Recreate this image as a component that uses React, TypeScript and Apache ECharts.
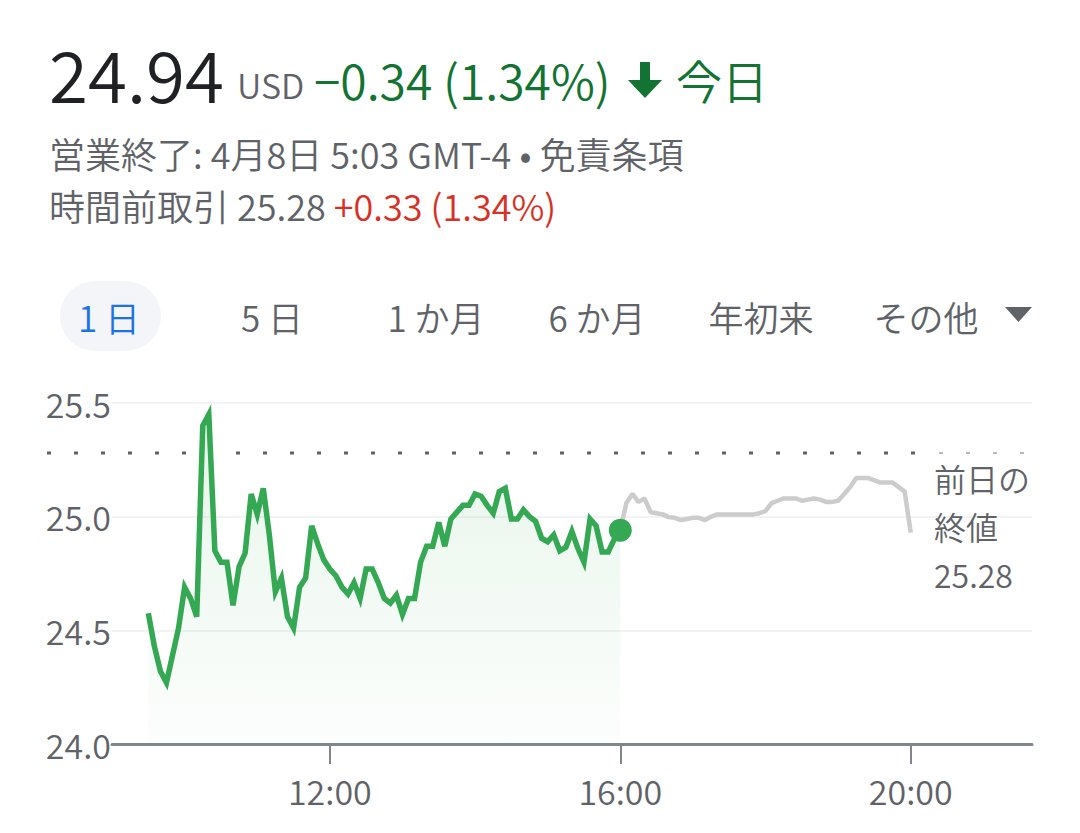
import React, { useEffect, useRef } from "react";
import * as echarts from "echarts";

// ---- data ----
const REGULAR_START_HOUR = 9.5; // 9:30
const AFTER_START_HOUR = 16; // 16:00
const STEP_HOURS = 5 / 60; // 5-minute samples

const regularPrices = [
  24.575, 24.43, 24.32, 24.27, 24.39, 24.51, 24.69, 24.64, 24.56, 25.4,
  25.45, 24.85, 24.8, 24.8, 24.61, 24.78, 24.84, 25.1, 25.01, 25.125,
  24.92, 24.67, 24.73, 24.56, 24.51, 24.69, 24.73, 24.96, 24.88, 24.81,
  24.77, 24.74, 24.69, 24.66, 24.71, 24.64, 24.77, 24.77, 24.71, 24.64,
  24.62, 24.655, 24.57, 24.64, 24.64, 24.8, 24.87, 24.87, 24.975, 24.87,
  24.99, 25.02, 25.05, 25.05, 25.1, 25.09, 25.05, 25.015, 25.11, 25.125,
  24.99, 24.99, 25.03, 25.0, 24.98, 24.905, 24.89, 24.92, 24.85, 24.865,
  24.935, 24.86, 24.8, 24.99, 24.96, 24.845, 24.845, 24.9, 24.94,
];

const afterHoursPrices = [
  24.94, 25.06, 25.1, 25.065, 25.08, 25.02, 25.015, 25.01, 24.998, 24.995,
  24.985, 24.99, 24.995, 24.995, 24.985, 25.0, 25.01, 25.01, 25.01, 25.01,
  25.01, 25.01, 25.01, 25.015, 25.025, 25.06, 25.07, 25.08, 25.08, 25.08,
  25.07, 25.075, 25.08, 25.075, 25.065, 25.065, 25.07, 25.1, 25.13, 25.17,
  25.17, 25.17, 25.16, 25.15, 25.15, 25.15, 25.13, 25.11, 24.93,
];

const previousClose = 25.28;
const lastPrice = 24.94;
const xTickHours = [12, 16, 20];
const xMinHour = 9;
const xMaxHour = 21.67;
const yMin = 24.0;
const yMax = 25.5;
const yInterval = 0.5;

const tabs = ["1 日", "5 日", "1 か月", "6 か月", "年初来", "その他"];

const FONT = '"Noto Sans CJK JP", "Noto Sans", sans-serif';
const W = 350;
const GREY = "#5f6368";
const GREEN_TEXT = "#137333";
const GREEN_LINE = "#34a853";
const RED = "#d93025";

function toSeries(start: number, values: number[]) {
  return values.map((v, i) => [start + i * STEP_HOURS, v]);
}

export default function App() {
  const ref = useRef<HTMLDivElement>(null);

  useEffect(() => {
    if (!ref.current) return;
    const chart = echarts.init(ref.current, undefined, { renderer: "svg" });

    const option: any = {
      animation: false,
      backgroundColor: "#ffffff",
      textStyle: { fontFamily: FONT },
      grid: { left: 112, right: 48, top: 403, bottom: 89, containLabel: false },
      xAxis: {
        type: "value",
        min: xMinHour,
        max: xMaxHour,
        axisLine: { show: true, lineStyle: { color: "#80868b", width: 3 } },
        axisTick: {
          show: true,
          customValues: xTickHours,
          length: 20,
          lineStyle: { color: "#80868b", width: 2 },
        },
        axisLabel: {
          customValues: xTickHours,
          formatter: (v: number) => `${v}:00`,
          color: GREY,
          fontSize: 34,
          fontWeight: W,
          fontFamily: FONT,
          margin: 29,
        },
        splitLine: { show: false },
      },
      yAxis: {
        type: "value",
        min: yMin,
        max: yMax,
        interval: yInterval,
        axisLine: { show: false },
        axisTick: { show: false },
        axisLabel: {
          formatter: (v: number) => v.toFixed(1),
          color: GREY,
          fontSize: 34,
          fontWeight: W,
          fontFamily: FONT,
          margin: 1,
        },
        splitLine: { show: true, lineStyle: { color: "#f1f3f4", width: 2 } },
      },
      series: [
        {
          type: "line",
          data: toSeries(REGULAR_START_HOUR, regularPrices),
          symbol: "none",
          lineStyle: { color: GREEN_LINE, width: 5.5, join: "miter" },
          itemStyle: { color: GREEN_LINE },
          areaStyle: {
            origin: "start",
            color: new echarts.graphic.LinearGradient(0, 0, 0, 1, [
              { offset: 0, color: "rgba(52,168,83,0.17)" },
              { offset: 1, color: "rgba(52,168,83,0.02)" },
            ]),
          },
          z: 3,
        },
        {
          type: "line",
          data: toSeries(AFTER_START_HOUR, afterHoursPrices),
          symbol: "none",
          lineStyle: { color: "#cccccc", width: 4.5 },
          itemStyle: { color: "#cccccc" },
          z: 2,
        },
        {
          type: "scatter",
          data: [[AFTER_START_HOUR, lastPrice]],
          symbolSize: 23,
          itemStyle: { color: GREEN_LINE, opacity: 1 },
          z: 4,
        },
      ],
    };
    chart.setOption(option);

    const py = chart.convertToPixel({ gridIndex: 0 }, [xMinHour, previousClose])[1];

    const graphic: any[] = [
      // header
      {
        type: "text",
        x: 49,
        y: 72,
        style: { text: "24.94", font: `${W} 71px ${FONT}`, fill: "#202124", verticalAlign: "middle" },
      },
      {
        type: "text",
        x: 237,
        y: 84,
        style: { text: "USD", font: `${W} 34px ${FONT}`, fill: GREY, verticalAlign: "middle" },
      },
      {
        type: "text",
        x: 314,
        y: 79,
        style: { text: "−0.34 (1.34%)", font: `${W} 48px ${FONT}`, fill: GREEN_TEXT, verticalAlign: "middle" },
      },
      {
        type: "polygon",
        shape: {
          points: [
            [640, 62], [650, 62], [650, 80], [662, 80], [645, 98], [628, 80], [640, 80],
          ],
        },
        style: { fill: GREEN_TEXT },
      },
      {
        type: "text",
        x: 676,
        y: 79,
        style: { text: "今日", font: `${W} 46px ${FONT}`, fill: GREEN_TEXT, verticalAlign: "middle" },
      },
      {
        type: "text",
        x: 49,
        y: 153,
        style: {
          text: "営業終了: 4月8日 5:03 GMT-4 • 免責条項",
          font: `${W} 36px ${FONT}`,
          fill: GREY,
          verticalAlign: "middle",
        },
      },
      {
        type: "text",
        x: 49,
        y: 205,
        style: {
          text: "{g|時間前取引 25.28 }{r|+0.33 (1.34%)}",
          verticalAlign: "middle",
          rich: {
            g: { font: `${W} 36px ${FONT}`, fill: GREY, color: GREY },
            r: { font: `${W} 36px ${FONT}`, fill: RED, color: RED },
          },
        },
      },
      // tabs
      {
        type: "rect",
        shape: { x: 60, y: 281, width: 101, height: 70, r: 35 },
        style: { fill: "#f3f5f9" },
      },
      ...tabs.map((t, i) => ({
        type: "text",
        x: [109, 272, 436, 597, 761, 926][i],
        y: 316,
        style: {
          text: t,
          font: `${W} 35px ${FONT}`,
          fill: i === 0 ? "#1a73e8" : GREY,
          align: "center",
          verticalAlign: "middle",
        },
      })),
      {
        type: "polygon",
        shape: { points: [[1005, 307], [1032, 307], [1018.5, 322]] },
        style: { fill: GREY },
      },
      // previous close dotted line
      {
        type: "line",
        shape: { x1: 47, y1: py, x2: 935, y2: py },
        style: { stroke: GREY, lineWidth: 3, lineDash: [4, 23] },
        z: 1,
      },
      {
        type: "line",
        shape: { x1: 939, y1: py, x2: 1026, y2: py },
        style: { stroke: "#b5b8bc", lineWidth: 2, lineDash: [4, 23] },
        z: 1,
      },
      {
        type: "text",
        x: 934,
        y: py + 1,
        style: {
          text: `前日の\n終値\n${previousClose.toFixed(2)}`,
          font: `${W} 32px ${FONT}`,
          fill: GREY,
          lineHeight: 48,
          verticalAlign: "top",
        },
      },
    ];
    chart.setOption({ graphic });

    return () => chart.dispose();
  }, []);

  return (
    <div
      ref={ref}
      style={{ position: "absolute", left: 0, top: 0, width: 1080, height: 833 }}
    />
  );
}
